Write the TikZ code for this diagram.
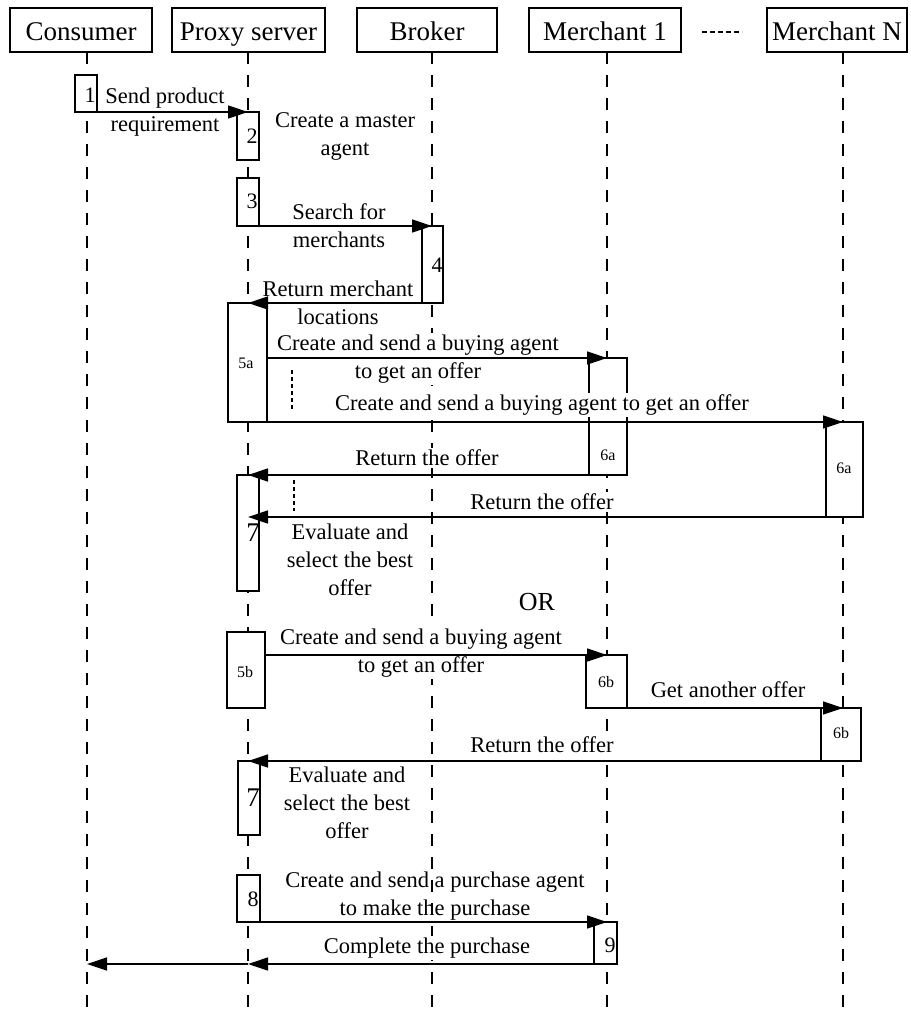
\documentclass[tikz,border=0pt]{standalone}
\usepackage{fontspec}
\setmainfont{Liberation Serif}
\usetikzlibrary{arrows.meta}
\begin{document}
\begin{tikzpicture}[x=1pt,y=-1pt,
  head/.style={draw, line width=1.2pt, minimum height=44pt, inner sep=0pt, outer sep=0pt,
               text height=22pt, text depth=2pt, font=\fontsize{27}{30}\selectfont},
  life/.style={line width=1.2pt, dash pattern=on 12pt off 11pt},
  act/.style={draw, fill=white, line width=1.2pt, inner sep=0pt, outer sep=0pt, anchor=north west},
  msg/.style={line width=1.5pt, -{Triangle[length=20pt,width=13pt]}},
  lbl/.style={inner sep=1.5pt, align=center, font=\fontsize{22.5}{28}\selectfont},
  lblw/.style={lbl, fill=white},
  num/.style={inner sep=0pt, font=\fontsize{22}{24}\selectfont},
  bignum/.style={inner sep=0pt, font=\fontsize{27}{28}\selectfont},
  smnum/.style={inner sep=0pt, font=\fontsize{16}{18}\selectfont},
  dots/.style={line width=2.4pt, dash pattern=on 4pt off 3pt}
]
\useasboundingbox (0,0) rectangle (910,1017);

% ---------- participants ----------
\node[head, minimum width=142pt] (hc) at (81,30)    {Consumer};
\node[head, minimum width=153pt] (hp) at (248.5,30) {Proxy server};
\node[head, minimum width=140pt] (hb) at (427,30)   {Broker};
\node[head, minimum width=152pt] (hm) at (605,30)   {Merchant 1};
\node[head, minimum width=140pt] (hn) at (837,30)   {Merchant N};
\coordinate (e1) at (702,32);
\coordinate (e2) at (742,32);
\draw[line width=2pt, dash pattern=on 5pt off 3pt] (e1) -- (e2);

% ---------- lifelines ----------
\coordinate (Lc) at (87,1017);
\coordinate (Lp) at (248,1017);
\coordinate (Lb) at (432,1017);
\coordinate (Lm) at (607,1017);
\coordinate (Ln) at (843,1017);
\draw[life] (hc.south -| Lc) -- (Lc);
\draw[life] (hp.south -| Lp) -- (Lp);
\draw[life] (hb.south -| Lb) -- (Lb);
\draw[life] (hm.south -| Lm) -- (Lm);
\draw[life] (hn.south -| Ln) -- (Ln);

% ---------- activation boxes ----------
\node[act, minimum width=22pt, minimum height=37pt]  (b1)   at (75,75)   {};
\node[act, minimum width=22pt, minimum height=48pt]  (b2)   at (237,112) {};
\node[act, minimum width=22pt, minimum height=48pt]  (b3)   at (237,178) {};
\node[act, minimum width=21pt, minimum height=77pt]  (b4)   at (422,226) {};
\node[act, minimum width=39pt, minimum height=119pt] (b5a)  at (228,303) {};
\node[act, minimum width=38pt, minimum height=117pt] (b6a1) at (589,358) {};
\node[act, minimum width=37pt, minimum height=95pt]  (b6an) at (826,422) {};
\node[act, minimum width=22pt, minimum height=116pt] (b7a)  at (237,475) {};
\node[act, minimum width=38pt, minimum height=76pt]  (b5b)  at (227,632) {};
\node[act, minimum width=41pt, minimum height=53pt]  (b6b1) at (586,655) {};
\node[act, minimum width=40pt, minimum height=53pt]  (b6bn) at (821,708) {};
\node[act, minimum width=22pt, minimum height=74pt]  (b7b)  at (238,761) {};
\node[act, minimum width=23pt, minimum height=47pt]  (b8)   at (237,875) {};
\node[act, minimum width=23pt, minimum height=42pt]  (b9)   at (594,922) {};

% ---------- step numbers ----------
\node[num]    (n1)   at (90,95)   {1};
\node[num]    (n2)   at (252,136) {2};
\node[num]    (n3)   at (252,201) {3};
\node[num]    (n4)   at (437,265) {4};
\node[smnum]  (n5a)  at (246,363) {5a};
\node[smnum]  (n6a1) at (608,455) {6a};
\node[smnum]  (n6an) at (844,468) {6a};
\node[bignum] (n7a)  at (253,533) {7};
\node[smnum]  (n5b)  at (245,672) {5b};
\node[smnum]  (n6b1) at (606,682) {6b};
\node[smnum]  (n6bn) at (841,733) {6b};
\node[bignum] (n7b)  at (253,798) {7};
\node[num]    (n8)   at (253,899) {8};
\node[num]    (n9)   at (610,945) {9};

% ---------- message texts ----------
\node[lbl]  (t1)  at (165,112.5) {Send product\\requirement};
\node[lbl]  (t2)  at (345,136)   {Create a master\\agent};
\node[lbl]  (t3)  at (339,226)   {Search for\\merchants};
\node[lbl]  (t4)  at (338,302.5) {Return merchant\\locations};
\node[lblw] (t5)  at (418,359)   {Create and send a buying agent\\to get an offer};
\node[lblw] (t5n) at (542,405)   {Create and send a buying agent to get an offer};
\node[lblw] (t6a) at (427,458)   {Return the offer};
\node[lblw] (t6n) at (542,502)   {Return the offer};
\node[lbl]  (t7a) at (350,560)   {Evaluate and\\select the best\\offer};
\node[lbl, font=\fontsize{26}{28}\selectfont] (or) at (537,602) {OR};
\node[lblw] (t5b) at (421,653)   {Create and send a buying agent\\to get an offer};
\node[lbl]  (t6b) at (728,690)   {Get another offer};
\node[lblw] (t6c) at (542,745)   {Return the offer};
\node[lbl]  (t7b) at (347,802.5) {Evaluate and\\select the best\\offer};
\node[lbl]  (t8)  at (435,896)   {Create and send a purchase agent\\to make the purchase};
\node[lblw] (t9)  at (427,948)   {Complete the purchase};

% ---------- messages ----------
\draw[msg] (b1.south east) -- (b1.south east -| Lp);
\draw[msg] (b3.south east) -- (b3.south east -| Lb);
\draw[msg] (b4.south west) -- (b4.south west -| Lp);
\draw[msg] (b5a.east |- b6a1.north) -- (b6a1.north -| Lm);
\draw[msg] (b5a.south east) -- (b5a.south east -| Ln);
\draw[msg] (b6a1.south west) -- (b6a1.south west -| Lp);
\draw[msg] (b6an.south west) -- (b6an.south west -| Lp);
\draw[msg] (b5b.east |- b6b1.north) -- (b6b1.north -| Lm);
\draw[msg] (b6b1.south east) -- (b6b1.south east -| Ln);
\draw[msg] (b6bn.south west) -- (b6bn.south west -| Lp);
\draw[msg] (b8.south east) -- (b8.south east -| Lm);
\draw[msg] (b9.south west) -- (b9.south west -| Lp);
\draw[msg] (b9.south west -| Lp) -- (b9.south west -| Lc);

% ---------- "more merchants" marks ----------
\coordinate (d1a) at (292,370);
\coordinate (d1b) at (292,410);
\coordinate (d2a) at (294,480);
\coordinate (d2b) at (294,511);
\draw[dots] (d1a) -- (d1b);
\draw[dots] (d2a) -- (d2b);
\end{tikzpicture}
\end{document}
